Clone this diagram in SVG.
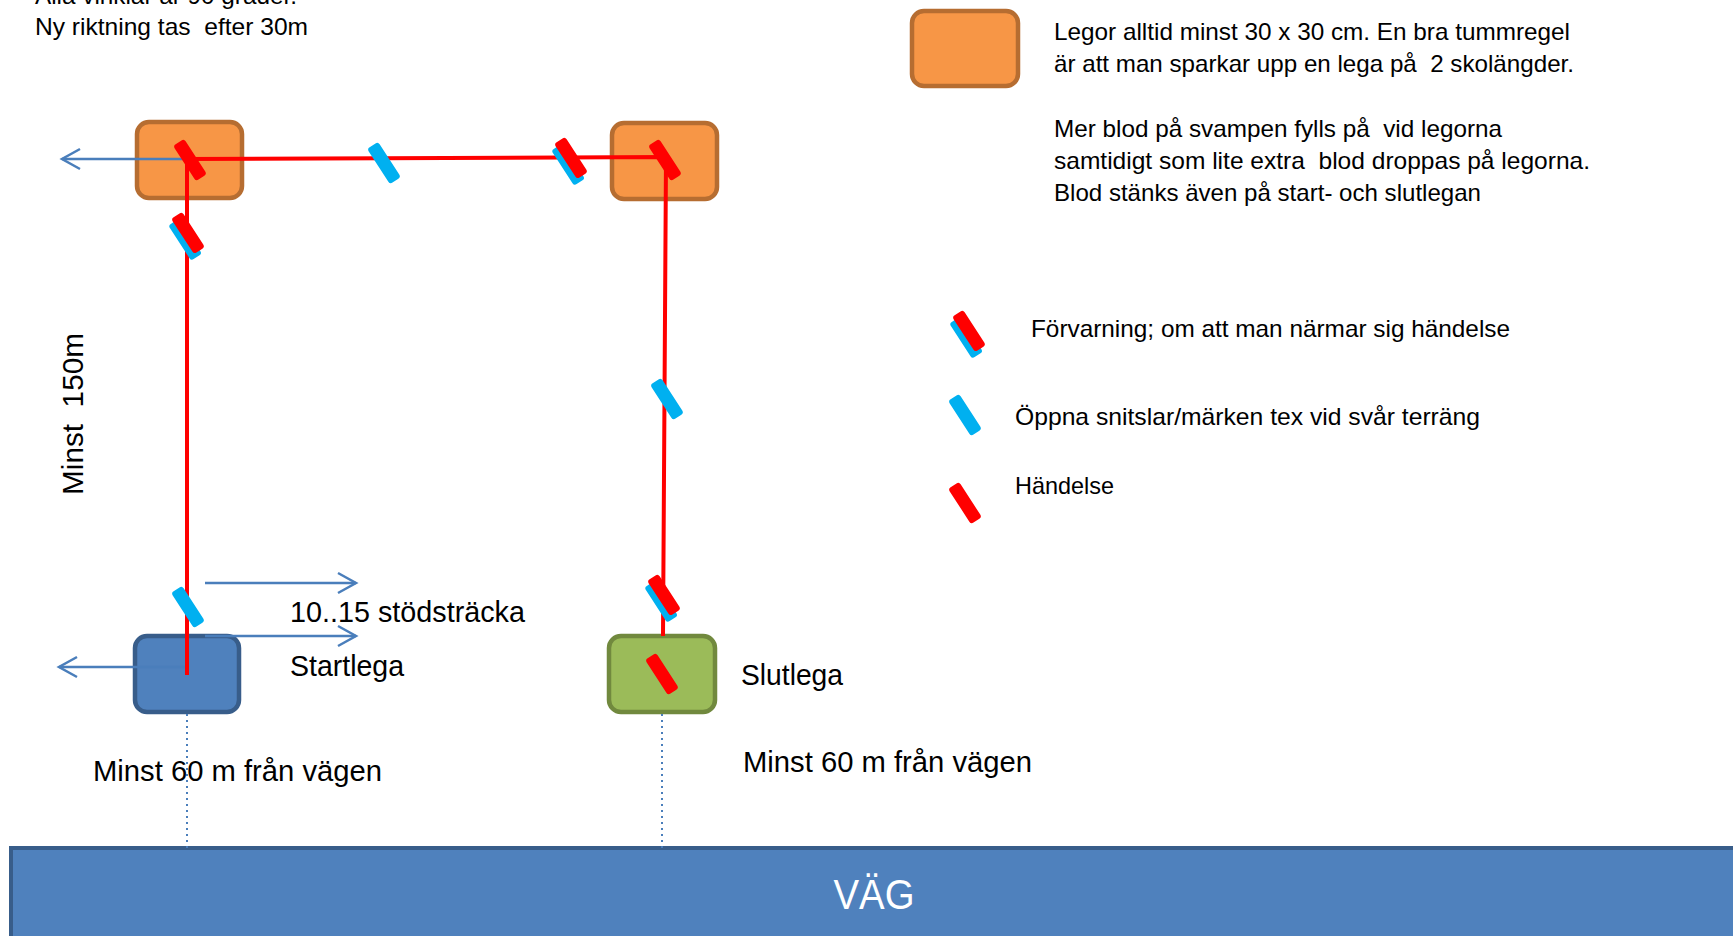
<svg xmlns="http://www.w3.org/2000/svg" width="1733" height="936" viewBox="0 0 1733 936">
<style>
text{font-family:"Liberation Sans",Arial,sans-serif;fill:#000}
.t24{font-size:24px}
.t29{font-size:29px}
.lega{stroke-width:4.5}
.orange{fill:#F79646;stroke:#B66D31}
.blue{fill:#4F81BD;stroke:#385D8A}
.green{fill:#9BBB59;stroke:#71893E}
.route{stroke:#FF0000;stroke-width:4;fill:none}
.arrow{stroke:#4A7EBB;stroke-width:2.5;fill:none;marker-end:url(#chev)}
.dot{stroke:#4A7EBB;stroke-width:2;stroke-dasharray:2 4;fill:none}
.road-label{font-size:43px;fill:#FFFFFF}
</style>
<defs>
<marker id="chev" markerUnits="userSpaceOnUse" markerWidth="24" markerHeight="26" refX="19" refY="12" orient="auto" overflow="visible">
<path d="M1,2 L19,12 L1,22" fill="none" stroke="#4A7EBB" stroke-width="2.5"/>
</marker>
<g id="mk-red"><rect x="-6.5" y="-21" width="13" height="42" rx="3" fill="#FF0000"/></g>
<g id="mk-blue"><rect x="-6.5" y="-21" width="13" height="42" rx="3" fill="#00B0F0"/></g>
<g id="mk-both"><rect x="-10" y="-19" width="13" height="42" rx="3" fill="#00B0F0"/><rect x="-4" y="-23" width="13" height="42" rx="3" fill="#FF0000"/></g>
</defs>
<rect width="1733" height="936" fill="#FFFFFF"/>

<g id="notes">
<text class="t24" x="35" y="4" textLength="262" lengthAdjust="spacingAndGlyphs">Alla vinklar är 90 grader.</text>
<text class="t24" x="35" y="35" textLength="273" lengthAdjust="spacingAndGlyphs" xml:space="preserve">Ny riktning tas  efter 30m</text>
<text class="t29" x="83" y="495" transform="rotate(-90 83 495)" textLength="162" lengthAdjust="spacingAndGlyphs" xml:space="preserve">Minst  150m</text>
</g>

<g id="road">
<rect x="11" y="848" width="1730" height="100" fill="#4F81BD" stroke="#385D8A" stroke-width="4"/>
<text class="road-label" x="874" y="909" text-anchor="middle" textLength="81" lengthAdjust="spacingAndGlyphs">VÄG</text>
</g>

<g id="lega-a"><rect class="lega orange" x="137" y="122" width="105" height="76" rx="12"/></g>
<g id="lega-b"><rect class="lega orange" x="612" y="123" width="105" height="76" rx="12"/></g>
<g id="startlega">
<rect class="lega blue" x="135" y="636" width="104" height="76" rx="12"/>
<text class="t29" x="290" y="676" textLength="114" lengthAdjust="spacingAndGlyphs">Startlega</text>
</g>
<g id="slutlega">
<rect class="lega green" x="609" y="636" width="106" height="76" rx="12"/>
<text class="t29" x="741" y="685" textLength="102" lengthAdjust="spacingAndGlyphs">Slutlega</text>
</g>

<g id="connectors">
<line class="dot" x1="187" y1="714" x2="187" y2="848"/>
<line class="dot" x1="662" y1="714" x2="662" y2="848"/>
<line class="arrow" x1="185" y1="159" x2="62" y2="159"/>
<line class="arrow" x1="186" y1="667" x2="59" y2="667"/>
<line class="arrow" x1="205" y1="583" x2="356" y2="583"/>
<line class="arrow" x1="205" y1="636" x2="356" y2="636"/>
<polyline class="route" points="187,675 187,159 666,157 663,636"/>
</g>

<g id="markers">
<use href="#mk-red" transform="translate(190 160) rotate(-33)"/>
<use href="#mk-both" transform="translate(187 236) rotate(-33)"/>
<use href="#mk-blue" transform="translate(384 163) rotate(-33)"/>
<use href="#mk-both" transform="translate(570 161) rotate(-33)"/>
<use href="#mk-red" transform="translate(665 160) rotate(-33)"/>
<use href="#mk-blue" transform="translate(667 399) rotate(-33)"/>
<use href="#mk-both" transform="translate(663 598) rotate(-33)"/>
<use href="#mk-red" transform="translate(662 674) rotate(-33)"/>
<use href="#mk-blue" transform="translate(188 607) rotate(-33)"/>
</g>

<g id="labels">
<text class="t29" x="290" y="622" textLength="235" lengthAdjust="spacingAndGlyphs">10..15 stödsträcka</text>
<text class="t29" x="93" y="781" textLength="289" lengthAdjust="spacingAndGlyphs">Minst 60 m från vägen</text>
<text class="t29" x="743" y="772" textLength="289" lengthAdjust="spacingAndGlyphs">Minst 60 m från vägen</text>
</g>

<g id="legend-lega">
<rect class="lega orange" x="912" y="11" width="106" height="75" rx="12"/>
<text class="t24" x="1054" y="40" textLength="516" lengthAdjust="spacingAndGlyphs">Legor alltid minst 30 x 30 cm. En bra tummregel</text>
<text class="t24" x="1054" y="72" textLength="520" lengthAdjust="spacingAndGlyphs" xml:space="preserve">är att man sparkar upp en lega på  2 skolängder.</text>
<text class="t24" x="1054" y="137" textLength="448" lengthAdjust="spacingAndGlyphs" xml:space="preserve">Mer blod på svampen fylls på  vid legorna</text>
<text class="t24" x="1054" y="169" textLength="536" lengthAdjust="spacingAndGlyphs" xml:space="preserve">samtidigt som lite extra  blod droppas på legorna.</text>
<text class="t24" x="1054" y="201" textLength="427" lengthAdjust="spacingAndGlyphs">Blod stänks även på start- och slutlegan</text>
</g>

<g id="legend-forvarning">
<use href="#mk-both" transform="translate(968 334) rotate(-33)"/>
<text class="t24" x="1031" y="337" textLength="479" lengthAdjust="spacingAndGlyphs">Förvarning; om att man närmar sig händelse</text>
</g>
<g id="legend-oppna">
<use href="#mk-blue" transform="translate(965 415) rotate(-33)"/>
<text class="t24" x="1015" y="425" textLength="465" lengthAdjust="spacingAndGlyphs">Öppna snitslar/märken tex vid svår terräng</text>
</g>
<g id="legend-handelse">
<use href="#mk-red" transform="translate(965 503) rotate(-33)"/>
<text class="t24" x="1015" y="494" textLength="99" lengthAdjust="spacingAndGlyphs">Händelse</text>
</g>
</svg>
